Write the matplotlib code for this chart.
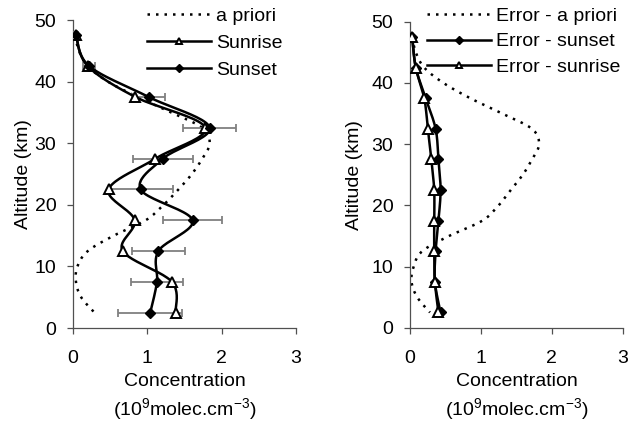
import numpy as np
import matplotlib
matplotlib.use("Agg")
import matplotlib.pyplot as plt
from matplotlib.lines import Line2D

plt.rcParams['font.family'] = ['Liberation Sans', 'DejaVu Sans']
plt.rcParams['font.size'] = 14

# ---------------- data ----------------
altitude = [47.5, 42.5, 37.5, 32.5, 27.5, 22.5, 17.5, 12.5, 7.5, 2.5]
sunrise = [0.04, 0.20, 0.84, 1.78, 1.11, 0.48, 0.83, 0.67, 1.33, 1.38]
sunset = [0.04, 0.22, 1.02, 1.84, 1.21, 0.91, 1.61, 1.15, 1.13, 1.04]

apriori_alt = [47.5, 45, 42.5, 40, 37.5, 35, 32.5, 30, 27.5, 25, 22.5, 20,
               17.5, 15, 12.5, 10, 7.5, 5, 2.5]
apriori = [0.03, 0.08, 0.20, 0.47, 0.87, 1.32, 1.74, 1.84, 1.74, 1.60, 1.42,
           1.22, 0.98, 0.55, 0.20, 0.06, 0.04, 0.11, 0.29]

err_apriori = [0.03, 0.08, 0.20, 0.47, 0.85, 1.30, 1.72, 1.82, 1.72, 1.59, 1.42,
               1.25, 1.02, 0.55, 0.17, 0.05, 0.02, 0.10, 0.28]
err_sunset = [0.03, 0.08, 0.22, 0.36, 0.40, 0.43, 0.40, 0.36, 0.35, 0.43]
err_sunrise = [0.03, 0.08, 0.20, 0.25, 0.30, 0.34, 0.34, 0.34, 0.35, 0.40]

x_ticks = [0, 1, 2, 3]
y_ticks = [0, 10, 20, 30, 40, 50]
x_label = "Concentration\n(10$^{\\mathregular{9}}$molec.cm$^{\\mathregular{-3}}$)"
y_label = "Altitude (km)"


def smooth(x, y, n=24):
    """Excel-style smoothed line through the given points (Bezier, tension 1/6)."""
    pts = np.column_stack([x, y]).astype(float)
    P = np.vstack([pts[0], pts, pts[-1]])
    segs = []
    t = np.linspace(0, 1, n)[:, None]
    for i in range(len(pts) - 1):
        p0, p1, p2, p3 = P[i], P[i + 1], P[i + 2], P[i + 3]
        c1 = p1 + (p2 - p0) / 6.0
        c2 = p2 - (p3 - p1) / 6.0
        seg = ((1 - t) ** 3) * p1 + 3 * ((1 - t) ** 2) * t * c1 + 3 * (1 - t) * t ** 2 * c2 + t ** 3 * p2
        segs.append(seg if i == 0 else seg[1:])
    s = np.vstack(segs)
    return s[:, 0], s[:, 1]


fig = plt.figure(figsize=(6.29, 4.24), dpi=100)
ax1 = fig.add_axes([0.116, 0.2264, 0.3545, 0.7264])
ax2 = fig.add_axes([0.652, 0.227, 0.338, 0.7217])

LW = 1.8
DOT = dict(color='black', lw=1.8, linestyle=(0, (1, 2.4)))
TRI = dict(marker='^', markersize=6.5, markerfacecolor='white', markeredgecolor='black', markeredgewidth=1.4)
DIA = dict(marker='D', markersize=5, markerfacecolor='black', markeredgecolor='black')

# ---- left panel ----
xs, ys = smooth(apriori, apriori_alt)
ax1.plot(xs, ys, **DOT, zorder=2)
ax1.errorbar(sunset, altitude, xerr=err_sunset, fmt='none', ecolor='#808080',
             elinewidth=1.3, capsize=3, capthick=1.3, zorder=3)
xs, ys = smooth(sunrise, altitude)
ax1.plot(xs, ys, color='black', lw=LW, zorder=4)
ax1.plot(sunrise, altitude, linestyle='none', **TRI, zorder=6)
xs, ys = smooth(sunset, altitude)
ax1.plot(xs, ys, color='black', lw=LW, zorder=4)
ax1.plot(sunset, altitude, linestyle='none', **DIA, zorder=6)

h1 = [Line2D([], [], **DOT),
      Line2D([], [], color='black', lw=LW, **TRI),
      Line2D([], [], color='black', lw=LW, **DIA)]
fig.legend(h1, ["a priori", "Sunrise", "Sunset"], loc='upper left',
           bbox_to_anchor=(147 / 629, 1 - 7 / 424), frameon=False, handlelength=3.3,
           handletextpad=0.25, labelspacing=0.5, borderpad=0, borderaxespad=0,
           markerscale=0.75)

# ---- right panel ----
xs, ys = smooth(err_apriori, apriori_alt)
ax2.plot(xs, ys, **DOT, zorder=2)
xs, ys = smooth(err_sunset, altitude)
ax2.plot(xs, ys, color='black', lw=LW, zorder=4)
ax2.plot(err_sunset, altitude, linestyle='none', **DIA, zorder=6)
xs, ys = smooth(err_sunrise, altitude)
ax2.plot(xs, ys, color='black', lw=LW, zorder=4)
ax2.plot(err_sunrise, altitude, linestyle='none', **TRI, zorder=6)

h2 = [Line2D([], [], **DOT),
      Line2D([], [], color='black', lw=LW, **DIA),
      Line2D([], [], color='black', lw=LW, **TRI)]
fig.legend(h2, ["Error - a priori", "Error - sunset", "Error - sunrise"], loc='upper left',
           bbox_to_anchor=(427 / 629, 1 - 7 / 424), frameon=False, handlelength=3.3,
           handletextpad=0.25, labelspacing=0.42, borderpad=0, borderaxespad=0,
           markerscale=0.75)

for ax, lp in ((ax1, 2), (ax2, 6)):
    ax.set_xlim(0, 3)
    ax.set_ylim(0, 50)
    ax.set_xticks(x_ticks)
    ax.set_yticks(y_ticks)
    ax.spines['top'].set_visible(False)
    ax.spines['right'].set_visible(False)
    for s in ('left', 'bottom'):
        ax.spines[s].set_color('#505050')
        ax.spines[s].set_linewidth(0.9)
    ax.tick_params(axis='x', direction='out', length=4, width=0.9, color='#505050', pad=12)
    ax.tick_params(axis='y', direction='out', length=4, width=0.9, color='#505050', pad=8)
    ax.set_xlabel(x_label, linespacing=1.35, labelpad=4)
    ax.set_ylabel(y_label, labelpad=lp)
    ax.patch.set_visible(False)

fig.savefig("out.png", dpi=100)
